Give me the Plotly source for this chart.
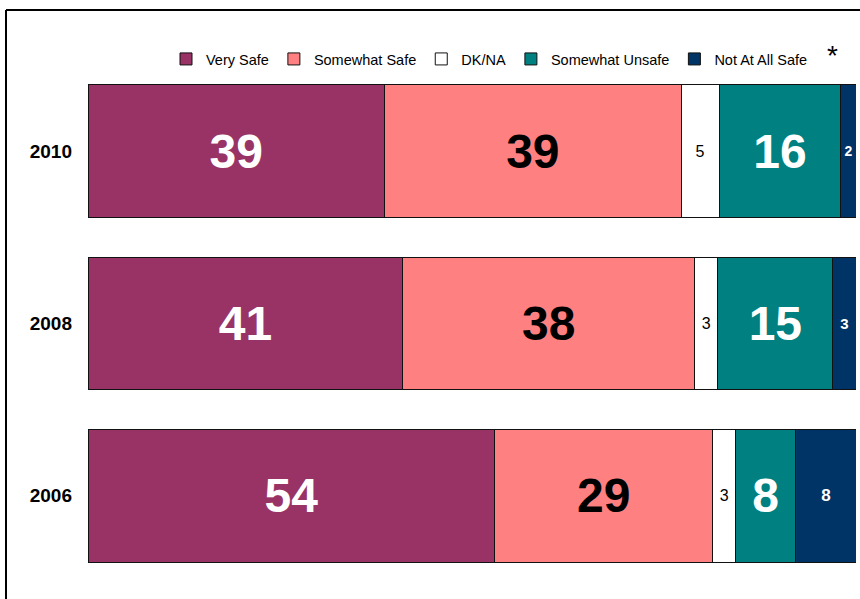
import plotly.graph_objects as go

years = ["2010", "2008", "2006"]
very_safe = [39, 41, 54]
somewhat_safe = [39, 38, 29]
dk_na = [5, 3, 3]
somewhat_unsafe = [16, 15, 8]
not_at_all_safe = [2, 3, 8]
series_names = ["Very Safe", "Somewhat Safe", "DK/NA", "Somewhat Unsafe", "Not At All Safe"]

series = [very_safe, somewhat_safe, dk_na, somewhat_unsafe, not_at_all_safe]
colors = ["#993366", "#FF8080", "#FFFFFF", "#008080", "#003366"]
text_colors = ["white", "black", "black", "white", "white"]
text_sizes = [[48] * 3, [48] * 3, [16] * 3, [48] * 3, [14, 15, 17]]
text_weights = ["bold", "bold", "normal", "bold", "bold"]

FONT = "Liberation Sans, Arial, sans-serif"

fig = go.Figure()
for name, vals, col, tc, ts, tw in zip(series_names, series, colors, text_colors, text_sizes, text_weights):
    fig.add_trace(go.Bar(
        y=years, x=vals, name=name, orientation="h",
        marker=dict(color=col, line=dict(color="#111111", width=1)),
        text=[str(v) for v in vals],
        textposition="inside", insidetextanchor="middle", textangle=0,
        textfont=dict(color=tc, size=ts, family=FONT, weight=tw),
        constraintext="none",
        hoverinfo="skip",
    ))

W, H = 860, 599
L, R, T, B = 88, 4, 65, 17
pw, ph = W - L - R, H - T - B

def px_x(px):
    return (px - L) / pw

def px_y(py):
    return (H - B - py) / ph

fig.update_layout(
    width=W, height=H,
    barmode="stack", barnorm="percent", bargap=0.23,
    margin=dict(l=L, r=R, t=T, b=B),
    paper_bgcolor="white", plot_bgcolor="white",
    font=dict(family=FONT, color="black"),
    showlegend=True,
    legend=dict(orientation="h", x=px_x(166), y=px_y(43), xanchor="left", yanchor="top",
                font=dict(size=14.5, color="black"), itemwidth=30, traceorder="normal",
                bgcolor="rgba(0,0,0,0)"),
    xaxis=dict(range=[0, 100], showticklabels=False, showgrid=False, zeroline=False,
               showline=False, fixedrange=True),
    yaxis=dict(autorange="reversed", showgrid=False, zeroline=False, showline=False,
               ticks="", ticklabelstandoff=15, fixedrange=True,
               tickfont=dict(size=19, family=FONT, color="black", weight="bold")),
    shapes=[
        dict(type="line", xref="paper", yref="paper", x0=px_x(6), x1=px_x(870),
             y0=px_y(10), y1=px_y(10), line=dict(color="black", width=2)),
        dict(type="line", xref="paper", yref="paper", x0=px_x(6), x1=px_x(6),
             y0=px_y(10), y1=px_y(610), line=dict(color="black", width=2)),
    ],
    annotations=[
        dict(text="*", xref="paper", yref="paper", x=px_x(832), y=px_y(55),
             xanchor="center", yanchor="middle", showarrow=False,
             font=dict(size=28, color="black")),
    ],
)

fig.write_html(
    "out.html",
    config={"displayModeBar": False, "staticPlot": False},
    post_script="document.body.style.margin='0';document.body.style.overflow='hidden';",
)
